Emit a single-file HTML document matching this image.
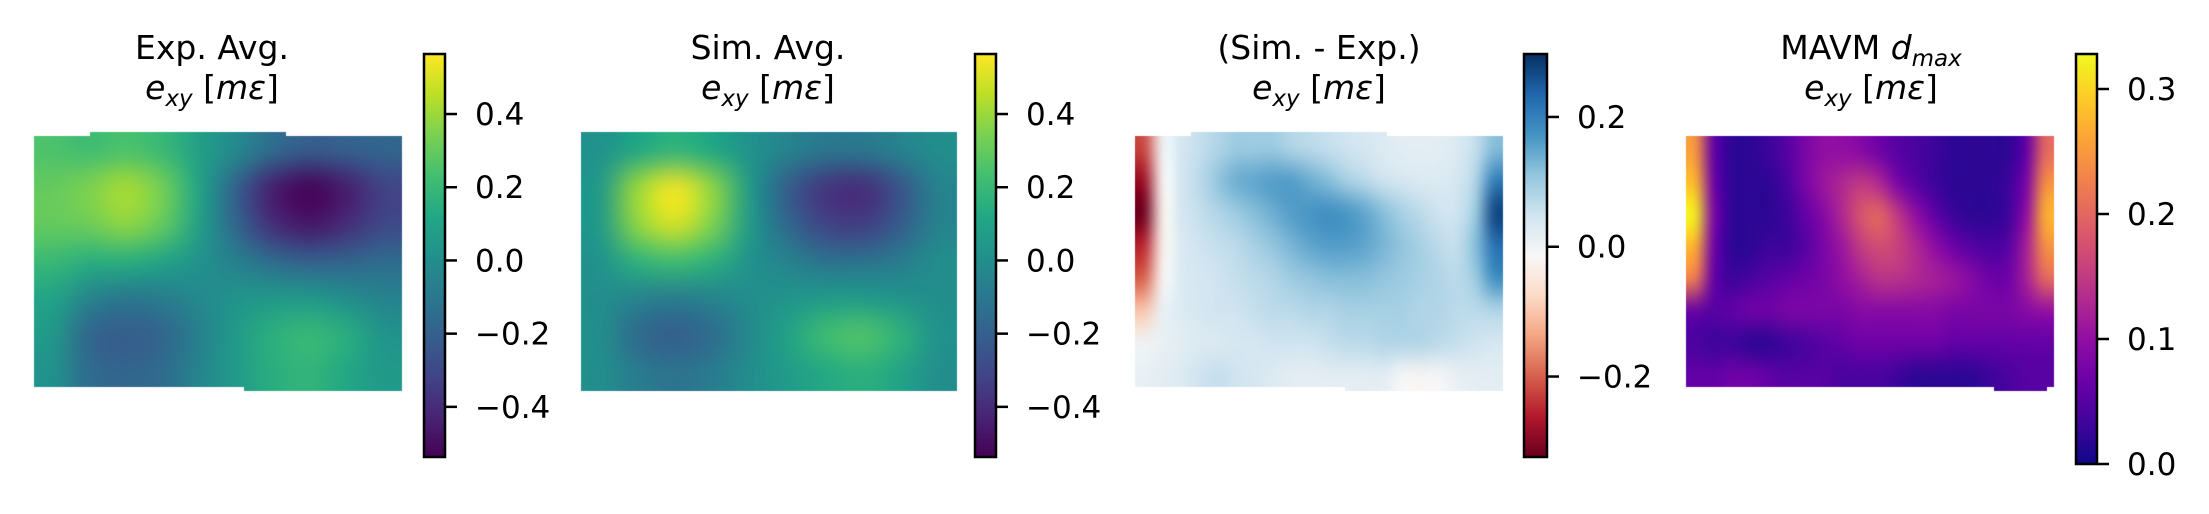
<!DOCTYPE html>
<html><head><meta charset="utf-8"><style>
html,body{margin:0;padding:0;background:#fff;}
#wrap{position:relative;width:2209px;height:514px;overflow:hidden;}
canvas,svg{position:absolute;left:0;top:0;}
text{font-family:"DejaVu Sans","Liberation Sans",sans-serif;fill:#000;}
</style></head><body>
<div id="wrap">
<canvas id="cv" width="2209" height="514"></canvas>
<svg id="sv" width="2209" height="514" xmlns="http://www.w3.org/2000/svg"></svg>
</div>
<script>
// ---- data: panel grids (rows top->bottom, cols left->right) ----
const expAvg = [
[0.25,0.22,0.25,0.2,0.08,-0.02,-0.15,-0.22,-0.2,-0.18],
[0.3,0.35,0.42,0.33,0.1,-0.2,-0.45,-0.53,-0.45,-0.32],
[0.3,0.32,0.38,0.3,0.08,-0.18,-0.4,-0.47,-0.4,-0.3],
[0.2,0.15,0.15,0.1,0.02,-0.06,-0.15,-0.2,-0.18,-0.15],
[0.1,-0.05,-0.1,-0.08,-0.02,0.03,0.05,0.05,0.0,-0.05],
[0.05,-0.18,-0.22,-0.18,-0.06,0.06,0.16,0.2,0.15,0.03],
[0.02,-0.15,-0.18,-0.15,-0.04,0.06,0.15,0.18,0.12,0.05]];
const simAvg = [
[0.02,0.12,0.18,0.12,0.02,-0.05,-0.1,-0.1,-0.05,0.0],
[0.05,0.4,0.55,0.38,0.05,-0.22,-0.37,-0.4,-0.25,-0.05],
[0.05,0.38,0.5,0.35,0.05,-0.17,-0.32,-0.34,-0.22,-0.05],
[0.02,0.17,0.22,0.16,0.02,-0.05,-0.12,-0.12,-0.08,0.0],
[0.0,-0.05,-0.08,-0.05,0.0,0.03,0.06,0.06,0.03,0.0],
[0.0,-0.16,-0.21,-0.15,-0.02,0.1,0.22,0.26,0.17,0.02],
[0.0,-0.08,-0.12,-0.08,0.0,0.06,0.13,0.16,0.1,0.0]];
const diffVals = [
[-0.22,0.0,0.04,0.06,0.08,0.1,0.1,0.1,0.08,0.07,0.06,0.05,0.04,0.03,0.02,0.02,0.02,0.03,0.06,0.12],
[-0.28,-0.02,0.04,0.07,0.11,0.14,0.15,0.16,0.16,0.14,0.12,0.09,0.07,0.05,0.04,0.03,0.03,0.04,0.08,0.2],
[-0.32,-0.03,0.04,0.06,0.08,0.1,0.12,0.14,0.16,0.17,0.18,0.17,0.15,0.12,0.09,0.07,0.05,0.05,0.1,0.27],
[-0.25,-0.03,0.03,0.05,0.06,0.07,0.09,0.11,0.13,0.15,0.16,0.16,0.15,0.13,0.11,0.09,0.07,0.06,0.12,0.22],
[-0.2,-0.02,0.03,0.04,0.05,0.06,0.07,0.08,0.1,0.11,0.12,0.12,0.12,0.11,0.1,0.09,0.08,0.07,0.1,0.18],
[-0.1,0.01,0.03,0.04,0.05,0.05,0.06,0.07,0.07,0.08,0.08,0.09,0.09,0.09,0.09,0.08,0.08,0.07,0.07,0.08],
[0.0,0.01,0.02,0.03,0.03,0.04,0.04,0.05,0.05,0.05,0.06,0.07,0.07,0.08,0.08,0.08,0.07,0.06,0.05,0.04],
[0.01,0.02,0.03,0.05,0.06,0.05,0.04,0.03,0.02,0.02,0.02,0.02,0.02,0.02,-0.01,-0.02,-0.01,0.01,0.02,0.02]];
const dmaxVals = [
[0.25,0.06,0.02,0.02,0.03,0.05,0.08,0.1,0.1,0.09,0.07,0.05,0.04,0.03,0.02,0.02,0.02,0.02,0.06,0.2],
[0.28,0.07,0.02,0.02,0.02,0.04,0.08,0.11,0.13,0.15,0.13,0.08,0.05,0.03,0.02,0.02,0.02,0.03,0.08,0.24],
[0.32,0.08,0.02,0.02,0.02,0.03,0.06,0.09,0.13,0.18,0.2,0.15,0.1,0.06,0.03,0.02,0.02,0.03,0.1,0.27],
[0.27,0.07,0.02,0.02,0.03,0.03,0.05,0.08,0.11,0.15,0.17,0.16,0.13,0.1,0.07,0.05,0.04,0.05,0.12,0.24],
[0.22,0.06,0.03,0.04,0.05,0.06,0.07,0.08,0.1,0.12,0.14,0.14,0.13,0.12,0.11,0.09,0.07,0.07,0.12,0.2],
[0.06,0.05,0.06,0.07,0.07,0.08,0.08,0.08,0.08,0.09,0.09,0.09,0.09,0.09,0.08,0.08,0.08,0.08,0.09,0.1],
[0.04,0.03,0.03,0.02,0.02,0.03,0.04,0.05,0.06,0.07,0.07,0.07,0.07,0.07,0.06,0.06,0.06,0.06,0.06,0.06],
[0.06,0.06,0.07,0.07,0.06,0.05,0.05,0.05,0.04,0.04,0.04,0.03,0.02,0.02,0.02,0.02,0.03,0.04,0.05,0.05]];
const ticksAvg = [0.4,0.2,0.0,-0.2,-0.4];
const ticksDiff = [0.2,0.0,-0.2];
const ticksDmax = [0.3,0.2,0.1,0.0];
const rangeAvg = [-0.537,0.564];
const rangeDiff = [-0.324,0.297];
const rangeDmax = [0.0,0.328];

// ---- colormaps ----
const viridis=['#440154','#482475','#414487','#355f8d','#2a788e','#21918c','#22a884','#44bf70','#7ad151','#bddf26','#fde725'];
const plasma=['#0d0887','#41049d','#6a00a8','#8f0da4','#b12a90','#cc4778','#e16462','#f2844b','#fca636','#fcce25','#f0f921'];
const rdbu=['#67001f','#b2182b','#d6604d','#f4a582','#fddbc7','#f7f7f7','#d1e5f0','#92c5de','#4393c3','#2166ac','#053061'];
function hex(h){return [parseInt(h.slice(1,3),16),parseInt(h.slice(3,5),16),parseInt(h.slice(5,7),16)];}
function cmap(stops,t){t=Math.max(0,Math.min(1,t));const p=t*(stops.length-1);const i=Math.min(stops.length-2,Math.floor(p));const f=p-i;const a=hex(stops[i]),b=hex(stops[i+1]);return [0,1,2].map(k=>Math.round(a[k]+(b[k]-a[k])*f));}

const panels=[
 {name:'exp-avg',grid:expAvg,cm:viridis,range:rangeAvg,ticks:ticksAvg,title:'Exp. Avg.',
  poly:[[34,136],[90,136],[90,132],[286,132],[286,136],[402,136],[402,391],[244,391],[244,387],[34,387]],
  box:[34,132,402,391],cb:[424,445],cby:[54,457],cx:212},
 {name:'sim-avg',grid:simAvg,cm:viridis,range:rangeAvg,ticks:ticksAvg,title:'Sim. Avg.',
  poly:[[581,132],[957,132],[957,391],[581,391]],box:[581,132,957,391],cb:[975,996],cby:[54,457],cx:768},
 {name:'sim-minus-exp',grid:diffVals,cm:rdbu,range:rangeDiff,ticks:ticksDiff,title:'(Sim. - Exp.)',
  poly:[[1135,136],[1191,136],[1191,132],[1387,132],[1387,136],[1503,136],[1503,391],[1345,391],[1345,387],[1135,387]],
  box:[1135,132,1503,391],cb:[1524,1547],cby:[54,457],cx:1319},
 {name:'mavm-dmax',grid:dmaxVals,cm:plasma,range:rangeDmax,ticks:ticksDmax,title:null,
  poly:[[1686,136],[2054,136],[2054,387],[2047,387],[2047,391],[1994,391],[1994,387],[1686,387]],
  box:[1686,136,2054,391],cb:[2076,2097],cby:[54,464],cx:1871}
];
const cv=document.getElementById('cv'),ctx=cv.getContext('2d');
const sv=document.getElementById('sv');const NS='http://www.w3.org/2000/svg';
function mk(tag,attrs,parent){const e=document.createElementNS(NS,tag);for(const k in attrs)e.setAttribute(k,attrs[k]);(parent||sv).appendChild(e);return e;}
const defs=mk('defs',{});

panels.forEach((p,pi)=>{
  const rows=p.grid.length,cols=p.grid[0].length;
  const sc=document.createElement('canvas');sc.width=cols;sc.height=rows;
  const sctx=sc.getContext('2d');const img=sctx.createImageData(cols,rows);
  for(let r=0;r<rows;r++)for(let c=0;c<cols;c++){
    const t=(p.grid[r][c]-p.range[0])/(p.range[1]-p.range[0]);const col=cmap(p.cm,t);const o=(r*cols+c)*4;
    img.data[o]=col[0];img.data[o+1]=col[1];img.data[o+2]=col[2];img.data[o+3]=255;}
  sctx.putImageData(img,0,0);
  ctx.save();ctx.beginPath();p.poly.forEach((pt,i)=>i?ctx.lineTo(pt[0],pt[1]):ctx.moveTo(pt[0],pt[1]));ctx.closePath();ctx.clip();
  ctx.imageSmoothingEnabled=true;ctx.imageSmoothingQuality='high';
  const [x0,y0,x1,y1]=p.box;ctx.drawImage(sc,x0,y0,x1-x0,y1-y0);ctx.restore();

  // colorbar
  const g=mk('linearGradient',{id:'g'+pi,x1:0,y1:1,x2:0,y2:0},defs);
  p.cm.forEach((c,i)=>mk('stop',{offset:i/(p.cm.length-1),'stop-color':c},g));
  const grp=mk('g',{});
  
  
  const [bx0,bx1]=p.cb;const [T,B]=p.cby;
  mk('rect',{x:bx0,y:T,width:bx1-bx0,height:B-T,fill:'url(#g'+pi+')',stroke:'#000','stroke-width':2.5},grp);
  const yv=v=>B-(v-p.range[0])/(p.range[1]-p.range[0])*(B-T);
  p.ticks.forEach(v=>{
    const y=yv(v);
    const tl=mk('line',{x1:bx1,x2:bx1+12,y1:y,y2:y,stroke:'#000','stroke-width':2.5},grp);
    
    
    const t=mk('text',{x:bx1+30,y:y+11,'font-size':31},grp);
    
    
    t.textContent=(v<0?'\u2212':'')+Math.abs(v).toFixed(1);
  });
  // title
  const tg=mk('g',{});
  
  
  const t1=mk('text',{x:p.cx,y:59,'font-size':33,'text-anchor':'middle'},tg);
  if(p.title){t1.textContent=p.title;}
  else{t1.appendChild(document.createTextNode('MAVM '));const a=mk('tspan',{'font-style':'italic'},t1);a.textContent='d';
       const b=mk('tspan',{'font-style':'italic','font-size':23,dy:7},t1);b.textContent='max';}
  const t2=mk('text',{x:p.cx,y:99,'font-size':33,'text-anchor':'middle'},tg);
  const e=mk('tspan',{'font-style':'italic'},t2);e.textContent='e';
  const s=mk('tspan',{'font-style':'italic','font-size':23,dy:7},t2);s.textContent='xy';
  const r1=mk('tspan',{dy:-7},t2);r1.textContent=' [';
  const m=mk('tspan',{'font-style':'italic'},t2);m.textContent='m\u03b5';
  const r2=mk('tspan',{},t2);r2.textContent=']';
});
</script>
</body></html>
